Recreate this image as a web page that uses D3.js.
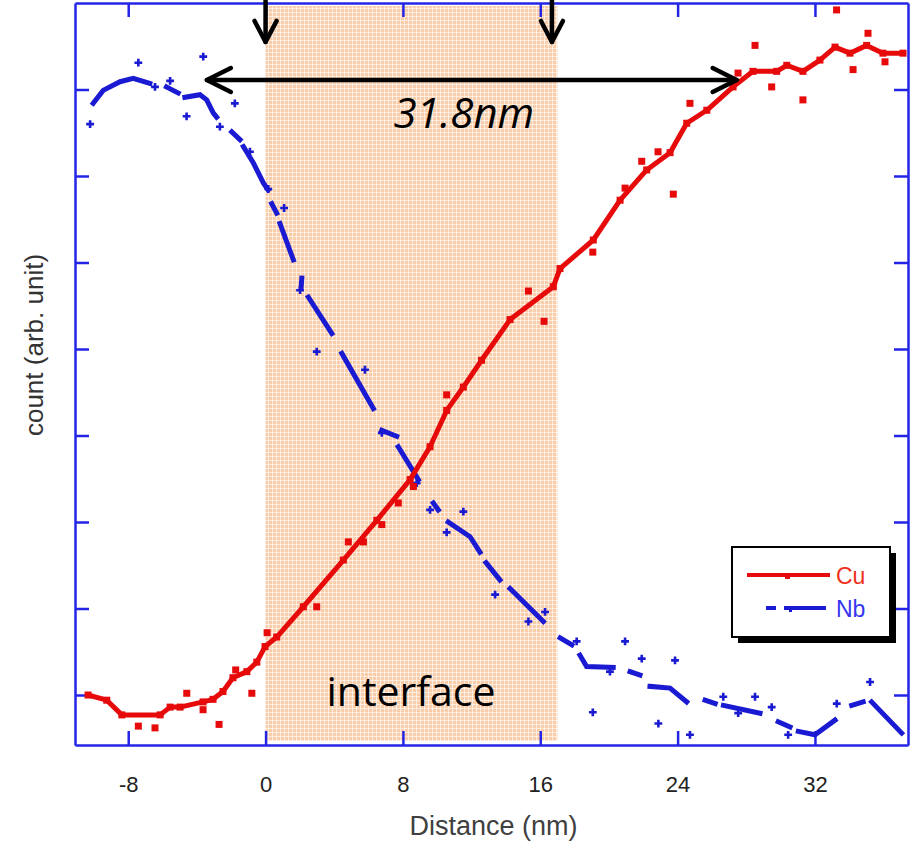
<!DOCTYPE html>
<html>
<head>
<meta charset="utf-8">
<script src="https://cdn.jsdelivr.net/npm/d3@7"></script>
<style>
  html, body { margin: 0; padding: 0; background: #fff; }
  svg { display: block; }
</style>
</head>
<body>
<div id="chart"></div>
<script>
// values (distance in nm, count in arbitrary units)
const xTicks = [-8, 0, 8, 16, 24, 32];
const yTicks = [0, 1, 2, 3, 4, 5, 6, 7];

const cuCurve = [[-10.34,0.00],[-9.25,-0.06],[-8.37,-0.23],[-6.14,-0.23],[-5.56,-0.14],[-4.98,-0.14],
  [-3.64,-0.08],[-3.06,-0.05],[-2.48,0.04],[-1.90,0.20],[-1.09,0.27],[-0.51,0.38],[-0.03,0.56],[0.65,0.67],
  [2.20,1.02],[4.53,1.56],[6.48,2.02],[8.42,2.49],[9.58,2.87],[10.55,3.29],[11.52,3.56],[12.58,3.87],
  [14.24,4.34],[16.76,4.72],[17.15,4.93],[19.09,5.26],[20.65,5.72],[22.2,6.07],[23.56,6.27],[24.53,6.61],
  [25.70,6.76],[27.23,7.03],[28.39,7.21],[29.77,7.21],[30.36,7.28],[31.3,7.21],[32.29,7.34],[33.17,7.49],
  [34.04,7.42],[35.01,7.51],[35.96,7.42],[37.13,7.42]];

const cuPoints = [[-7.41,-0.36],[-6.44,-0.38],[-4.59,0.02],[-3.64,-0.17],[-2.71,-0.34],[-1.74,0.29],
  [-0.80,0.02],[0.09,0.72],[2.98,1.02],[4.82,1.77],[5.70,1.77],[6.77,1.97],[7.73,2.22],[8.61,2.41],
  [10.55,3.47],[15.31,4.67],[16.22,4.32],[19.06,5.12],[20.94,5.86],[21.91,6.17],[22.86,6.28],[23.75,5.79],
  [24.72,6.84],[27.52,7.19],[28.51,7.51],[29.48,7.03],[31.3,6.88],[33.26,7.92],[34.22,7.23],[35.09,7.65],
  [36.08,7.32]];

const nbSegments = [
  [[-10.04,6.84],[-9.46,6.99],[-8.48,7.09],[-7.71,7.13],[-6.74,7.07]],
  [[-5.77,7.03],[-5.09,6.96]],
  [[-4.70,6.91],[-3.82,6.94],[-3.43,6.88],[-3.05,6.73],[-2.85,6.68]],
  [[-1.97,6.51],[-1.49,6.42]],
  [[-1.29,6.34],[-0.71,6.15],[-0.13,5.92],[0.14,5.84]],
  [[0.36,5.68],[0.65,5.57]],
  [[0.84,5.45],[1.62,5.03]],
  [[2.11,4.82],[2.07,4.71]],
  [[2.49,4.60],[3.86,4.18]],
  [[4.44,3.95],[6.28,3.31]],
  [[6.77,3.06],[7.64,2.99]],
  [[7.73,2.87],[8.90,2.49]],
  [[9.77,2.22],[10.06,2.14]],
  [[10.64,2.00],[11.91,1.83],[12.49,1.65]],
  [[12.84,1.53],[13.65,1.33]],
  [[14.24,1.23],[16.18,0.85]],
  [[17.16,0.66],[17.84,0.58]],
  [[18.31,0.46],[18.70,0.33],[20.25,0.32]],
  [[21.23,0.27],[21.81,0.23]],
  [[22.39,0.10],[23.56,0.08],[24.53,-0.08]],
  [[25.6,-0.06],[26.19,-0.10]],
  [[26.67,-0.12],[28.80,-0.21]],
  [[29.86,-0.31],[30.55,-0.37]],
  [[31.03,-0.42],[32.0,-0.46],[33.17,-0.29]],
  [[34.14,-0.12],[34.81,-0.08]],
  [[35.3,-0.08],[37.05,-0.44]]
];

const nbPoints = [[-10.22,6.60],[-7.41,7.31],[-6.44,7.03],[-5.56,7.10],[-3.63,7.38],[-4.6,6.69],
  [-1.79,6.84],[-2.66,6.57],[-0.91,6.28],[0.16,5.85],[1.08,5.63],[2.01,4.68],[2.98,3.97],[5.79,3.76],
  [6.77,3.03],[8.8,2.45],[9.58,2.14],[11.52,2.12],[10.55,1.88],[13.37,1.16],[15.31,0.85],[16.28,0.96],
  [18.12,0.62],[19.06,-0.20],[20.06,0.27],[20.94,0.62],[21.91,0.42],[22.88,-0.33],[23.85,0.40],
  [24.72,-0.46],[26.66,-0.02],[27.53,-0.21],[28.51,-0.02],[29.48,-0.14],[30.44,-0.46],[33.27,-0.10],
  [35.21,0.15]];

// annotations
const interfaceRange = [0, 17];
const dropArrows = [0, 16.68];
const spanArrow = [-3.42, 27.44];
const spanLabel = "31.8nm";

const W = 921, H = 841;
const plot = {left: 75, right: 908, top: 3, bottom: 745};

const svg = d3.select("#chart").append("svg")
    .attr("width", W)
    .attr("height", H);

svg.append("rect").attr("width", W).attr("height", H).attr("fill", "#fff");

const x = d3.scaleLinear().domain([-11.1, 37.42]).range([plot.left, plot.right]);
const y = d3.scaleLinear().domain([-0.578, 8.0]).range([plot.bottom, plot.top]);

const axisBlue = "#2424e6";
const cuRed = "#e60a0a";
const nbBlue = "#1a1ad2";

// dotted peach fill for the interface band
const defs = svg.append("defs");
const pat = defs.append("pattern")
    .attr("id", "peach")
    .attr("width", 4).attr("height", 4)
    .attr("patternUnits", "userSpaceOnUse");
pat.append("rect").attr("width", 4).attr("height", 4).attr("fill", "#f9cdaa");
pat.append("rect").attr("width", 1).attr("height", 4).attr("fill", "#fff").attr("opacity", 0.6);
pat.append("rect").attr("width", 4).attr("height", 1).attr("fill", "#fff").attr("opacity", 0.6);

svg.append("rect")
    .attr("x", x(interfaceRange[0]))
    .attr("y", plot.top + 3)
    .attr("width", x(interfaceRange[1]) - x(interfaceRange[0]))
    .attr("height", plot.bottom - plot.top - 7)
    .attr("fill", "url(#peach)");

// frame + inward ticks on all four sides
const tick = 14;
function styleAxis(g) {
  g.select(".domain").attr("stroke", axisBlue).attr("stroke-width", 2.5);
  g.selectAll(".tick line").attr("stroke", axisBlue).attr("stroke-width", 2.5);
}

svg.append("g")
    .attr("transform", `translate(0,${plot.bottom})`)
    .call(d3.axisBottom(x).tickValues(xTicks).tickSizeInner(-tick).tickSizeOuter(0).tickPadding(31)
        .tickFormat(d => String(d)))
    .call(styleAxis)
    .call(g => g.selectAll(".tick text")
        .attr("fill", "#222")
        .style("font-family", "'Liberation Sans', Arial, sans-serif")
        .style("font-size", "22px"));

svg.append("g")
    .attr("transform", `translate(0,${plot.top})`)
    .call(d3.axisTop(x).tickValues(xTicks).tickSizeInner(-tick).tickSizeOuter(0).tickFormat(""))
    .call(styleAxis);

svg.append("g")
    .attr("transform", `translate(${plot.left},0)`)
    .call(d3.axisLeft(y).tickValues(yTicks).tickSizeInner(-tick).tickSizeOuter(0).tickFormat(""))
    .call(styleAxis);

svg.append("g")
    .attr("transform", `translate(${plot.right},0)`)
    .call(d3.axisRight(y).tickValues(yTicks).tickSizeInner(-tick).tickSizeOuter(0).tickFormat(""))
    .call(styleAxis);

// axis titles
svg.append("text")
    .attr("x", (plot.left + plot.right) / 2 + 2)
    .attr("y", 835)
    .attr("text-anchor", "middle")
    .attr("fill", "#404040")
    .style("font-family", "'Liberation Sans', Arial, sans-serif")
    .style("font-size", "27px")
    .text("Distance (nm)");

svg.append("text")
    .attr("transform", "translate(43,345) rotate(-90)")
    .attr("text-anchor", "middle")
    .attr("fill", "#333")
    .style("font-family", "'Liberation Sans', Arial, sans-serif")
    .style("font-size", "26px")
    .text("count (arb. unit)");

const line = d3.line().x(d => x(d[0])).y(d => y(d[1]));

// Nb: broken line + crosses
svg.append("g").selectAll("path")
    .data(nbSegments)
    .join("path")
    .attr("d", line)
    .attr("fill", "none")
    .attr("stroke", nbBlue)
    .attr("stroke-width", 5)
    .attr("stroke-linecap", "square");

const plus = d3.symbol().type(d3.symbolCross).size(34);
svg.append("g").selectAll("path")
    .data(nbPoints)
    .join("path")
    .attr("transform", d => `translate(${x(d[0])},${y(d[1])})`)
    .attr("d", plus)
    .attr("fill", nbBlue);

// Cu: line with square markers
svg.append("path")
    .datum(cuCurve)
    .attr("d", line)
    .attr("fill", "none")
    .attr("stroke", cuRed)
    .attr("stroke-width", 5)
    .attr("stroke-linejoin", "round");

svg.append("g").selectAll("rect")
    .data(cuCurve.concat(cuPoints))
    .join("rect")
    .attr("x", d => x(d[0]) - 3.5)
    .attr("y", d => y(d[1]) - 3.5)
    .attr("width", 7)
    .attr("height", 7)
    .attr("fill", cuRed);

// black arrows
const ann = svg.append("g")
    .attr("stroke", "#000")
    .attr("stroke-width", 4.5)
    .attr("fill", "none")
    .attr("stroke-linecap", "round")
    .attr("stroke-linejoin", "round");

const dropTip = y(7.55);
dropArrows.forEach(v => {
  const px = x(v);
  ann.append("path").attr("d", `M${px},0V${dropTip}`);
  ann.append("path").attr("d", `M${px - 11},${dropTip - 21}L${px},${dropTip}L${px + 11},${dropTip - 21}`);
});

const spanY = y(7.11);
const sx0 = x(spanArrow[0]), sx1 = x(spanArrow[1]);
ann.append("path").attr("d", `M${sx0},${spanY}H${sx1}`);
ann.append("path").attr("d", `M${sx0 + 24},${spanY - 12}L${sx0},${spanY}L${sx0 + 24},${spanY + 12}`);
ann.append("path").attr("d", `M${sx1 - 24},${spanY - 12}L${sx1},${spanY}L${sx1 - 24},${spanY + 12}`);

svg.append("text")
    .attr("x", x(11.55))
    .attr("y", 128)
    .attr("text-anchor", "middle")
    .attr("fill", "#000")
    .style("font-family", "'Open Sans', sans-serif")
    .style("font-style", "italic")
    .style("font-size", "42px")
    .text(spanLabel);

svg.append("text")
    .attr("x", x(8.47))
    .attr("y", 706)
    .attr("text-anchor", "middle")
    .attr("fill", "#000")
    .style("font-family", "'Open Sans', sans-serif")
    .style("font-size", "41px")
    .text("interface");

// legend
const lg = svg.append("g").attr("transform", "translate(732,547)");
lg.append("rect").attr("x", 6).attr("y", 6).attr("width", 158).attr("height", 90).attr("fill", "#000");
lg.append("rect").attr("width", 158).attr("height", 90).attr("fill", "#fff")
    .attr("stroke", "#000").attr("stroke-width", 2);

lg.append("line").attr("x1", 15).attr("x2", 98).attr("y1", 28).attr("y2", 28)
    .attr("stroke", cuRed).attr("stroke-width", 4);
lg.append("rect").attr("x", 53).attr("y", 28).attr("width", 5).attr("height", 4).attr("fill", cuRed);
lg.append("text").attr("x", 104).attr("y", 37).attr("fill", "#f03020")
    .style("font-family", "'Liberation Sans', Arial, sans-serif").style("font-size", "23px").text("Cu");

lg.append("line").attr("x1", 34).attr("x2", 44).attr("y1", 61).attr("y2", 61)
    .attr("stroke", nbBlue).attr("stroke-width", 4);
lg.append("line").attr("x1", 52).attr("x2", 94).attr("y1", 61).attr("y2", 61)
    .attr("stroke", nbBlue).attr("stroke-width", 4);
lg.append("rect").attr("x", 57).attr("y", 61).attr("width", 3).attr("height", 4).attr("fill", nbBlue);
lg.append("text").attr("x", 104).attr("y", 70).attr("fill", "#3535f0")
    .style("font-family", "'Liberation Sans', Arial, sans-serif").style("font-size", "23px").text("Nb");
</script>
</body>
</html>
